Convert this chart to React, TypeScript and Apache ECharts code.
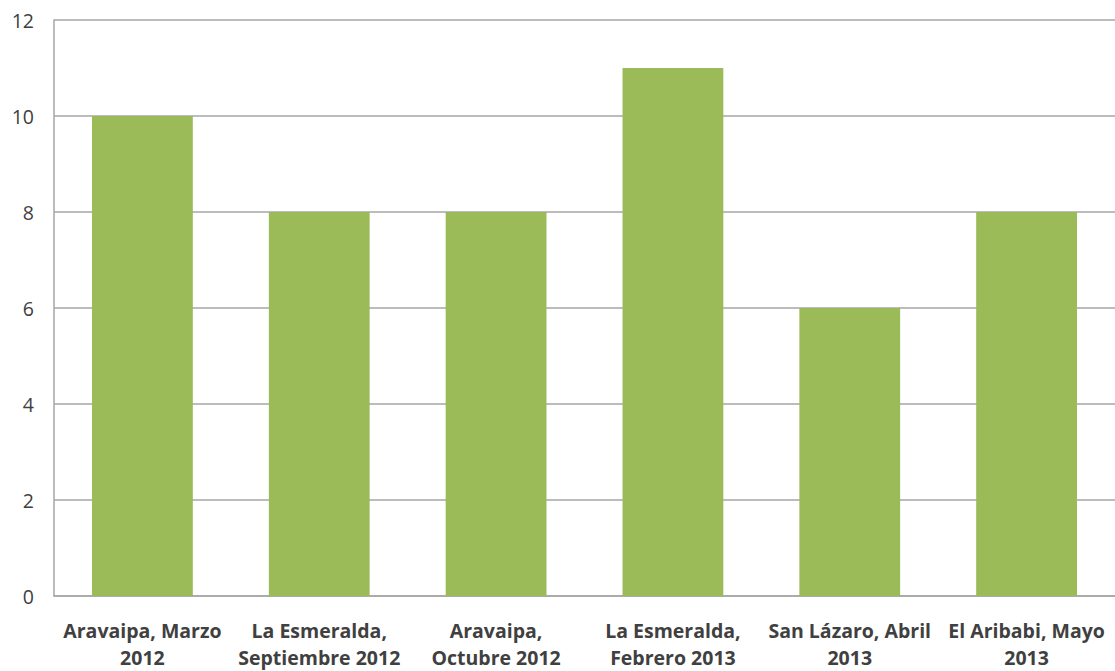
import React, { useEffect, useRef } from "react";
import * as echarts from "echarts";

const categories = [
  "Aravaipa, Marzo\n2012",
  "La Esmeralda,\nSeptiembre 2012",
  "Aravaipa,\nOctubre 2012",
  "La Esmeralda,\nFebrero 2013",
  "San Lázaro, Abril\n2013",
  "El Aribabi, Mayo\n2013",
];
const values = [10, 8, 8, 11, 6, 8];

export default function App() {
  const ref = useRef<HTMLDivElement>(null);
  useEffect(() => {
    if (!ref.current) return;
    const chart = echarts.init(ref.current, null, { renderer: "svg" });
    chart.setOption({
      animation: false,
      backgroundColor: "#ffffff",
      grid: { left: 54, top: 20, width: 1062, height: 579, containLabel: false },
      xAxis: {
        type: "category",
        data: categories,
        axisLine: { show: true, lineStyle: { color: "#a6a6a6", width: 1.5 } },
        axisTick: { show: false },
        axisLabel: {
          interval: 0,
          color: "#404040",
          fontFamily: "Open Sans",
          fontWeight: "bold",
          fontSize: 19.5,
          lineHeight: 27,
          margin: 21,
        },
      },
      yAxis: {
        type: "value",
        min: 0,
        max: 12,
        interval: 2,
        axisLine: { show: true, lineStyle: { color: "#a6a6a6", width: 1.5 } },
        axisTick: { show: false },
        splitLine: { show: true, lineStyle: { color: "#a6a6a6", width: 1.5 } },
        axisLabel: {
          color: "#404040",
          fontFamily: "Open Sans",
          fontSize: 19.5,
          margin: 20,
        },
      },
      series: [
        {
          type: "bar",
          data: values,
          barCategoryGap: "43%",
          itemStyle: { color: "#9bbb59" },
        },
      ],
    });
    return () => chart.dispose();
  }, []);
  return (
    <div
      ref={ref}
      style={{ position: "absolute", left: 0, top: 0, width: 1115, height: 671 }}
    />
  );
}
